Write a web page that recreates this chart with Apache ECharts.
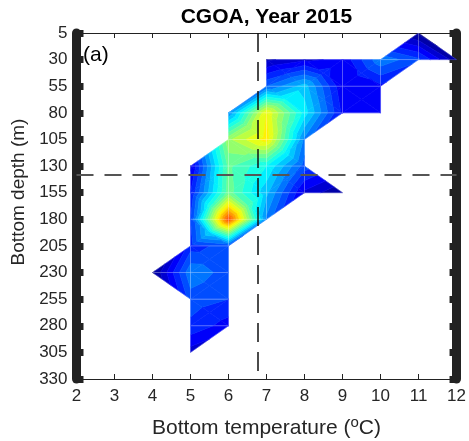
<!DOCTYPE html>
<html>
<head>
<meta charset="utf-8">
<script src="https://cdn.jsdelivr.net/npm/echarts@6/dist/echarts.min.js"></script>
<style>
  html, body { margin: 0; padding: 0; background: #fff; }
  #chart { width: 469px; height: 441px; }
</style>
</head>
<body>
<div id="chart"></div>
<script>
// Grid of the survey: bottom temperature (°C) by bottom depth (m)
const temps = [2, 3, 4, 5, 6, 7, 8, 9, 10, 11, 12];
const depths = [5, 30, 55, 80, 105, 130, 155, 180, 205, 230, 255, 280, 305, 330];
const tempTicks = [2, 3, 4, 5, 6, 7, 8, 9, 10, 11, 12];
const depthTicks = [5, 30, 55, 80, 105, 130, 155, 180, 205, 230, 255, 280, 305, 330];

// Relative density on the grid, one row per depth (null = no hauls)
const _ = null;
const density = [
  [_, _, _, _, _, _, _, _, _, 0.03, _],                  //   5 m
  [_, _, _, _, _, 0.07, 0.11, 0.13, 0.27, 0.21, 0.05],  //  30 m
  [_, _, _, _, _, 0.24, 0.34, 0.125, 0.15, _, _],       //  55 m
  [_, _, _, _, 0.28, 0.64, 0.38, 0.15, 0.14, _, _],     //  80 m
  [_, _, _, _, 0.55, 0.66, 0.27, _, _, _, _],           // 105 m
  [_, _, _, 0.11, 0.49, 0.40, 0.22, _, _, _, _],        // 130 m
  [_, _, _, 0.16, 0.50, 0.33, 0.11, 0.04, _, _, _],     // 155 m
  [_, _, _, 0.20, 0.83, 0.27, _, _, _, _, _],           // 180 m
  [_, _, _, 0.18, 0.22, _, _, _, _, _, _],              // 205 m
  [_, _, 0.03, 0.27, 0.22, _, _, _, _, _, _],           // 230 m
  [_, _, _, 0.22, 0.20, _, _, _, _, _, _],              // 255 m
  [_, _, _, 0.19, 0.14, _, _, _, _, _, _],              // 280 m
  [_, _, _, 0.10, _, _, _, _, _, _, _],                 // 305 m
  [_, _, _, _, _, _, _, _, _, _, _]                     // 330 m
];

// Mean temperature and depth reference lines
const refTemp = 6.77;
const refDepth = 138;

// Filled-contour levels
const levelStep = 0.04;
const levels = [];
for (let k = 0; k * levelStep < 1; k++) levels.push(+(k * levelStep).toFixed(4));

// MATLAB-style jet colour map
function jet(v) {
  const c = t => Math.max(0, Math.min(1, t));
  const r = c(1.5 - Math.abs(4 * v - 3));
  const g = c(1.5 - Math.abs(4 * v - 2));
  const b = c(1.5 - Math.abs(4 * v - 1));
  return 'rgb(' + Math.round(r * 255) + ',' + Math.round(g * 255) + ',' + Math.round(b * 255) + ')';
}

// Split every grid cell into triangles (centre point for full cells);
// also collect the outer cell edges, drawn as faint patch seams
const seams = [];
function cellTriangles() {
  const tris = [];
  for (let j = 0; j < depths.length - 1; j++) {
    for (let i = 0; i < temps.length - 1; i++) {
      const corners = [
        [temps[i], depths[j], density[j][i]],
        [temps[i + 1], depths[j], density[j][i + 1]],
        [temps[i + 1], depths[j + 1], density[j + 1][i + 1]],
        [temps[i], depths[j + 1], density[j + 1][i]]
      ];
      const valid = corners.filter(p => p[2] !== null);
      if (valid.length === 4) {
        const m = [
          (corners[0][0] + corners[2][0]) / 2,
          (corners[0][1] + corners[2][1]) / 2,
          corners.reduce((s, p) => s + p[2], 0) / 4
        ];
        for (let k = 0; k < 4; k++) {
          tris.push([corners[k], corners[(k + 1) % 4], m]);
          seams.push([corners[k], corners[(k + 1) % 4]]);
        }
      } else if (valid.length === 3) {
        tris.push(valid);
        for (let k = 0; k < 3; k++) seams.push([valid[k], valid[(k + 1) % 3]]);
      }
    }
  }
  return tris;
}

// Clip a polygon (vertices carry a value) to v >= bound or v <= bound
function clip(poly, bound, keepAbove) {
  const out = [];
  const inside = p => keepAbove ? p[2] >= bound : p[2] <= bound;
  for (let i = 0; i < poly.length; i++) {
    const a = poly[i], b = poly[(i + 1) % poly.length];
    const ia = inside(a), ib = inside(b);
    if (ia) out.push(a);
    if (ia !== ib) {
      const t = (bound - a[2]) / (b[2] - a[2]);
      out.push([a[0] + t * (b[0] - a[0]), a[1] + t * (b[1] - a[1]), bound]);
    }
  }
  return out;
}

const pieces = [];
cellTriangles().forEach(tri => {
  for (let k = 0; k < levels.length; k++) {
    const lo = levels[k];
    const hi = k + 1 < levels.length ? levels[k + 1] : Infinity;
    let poly = clip(tri, lo, true);
    if (poly.length < 3) continue;
    if (hi !== Infinity) poly = clip(poly, hi, false);
    if (poly.length < 3) continue;
    pieces.push({ pts: poly.map(p => [p[0], p[1]]), color: jet(lo) });
  }
});

const FONT = '"Liberation Sans", Arial, Helvetica, sans-serif';
const INK = '#262626';
const BAR = '#222222';

const chart = echarts.init(document.getElementById('chart'), null, { renderer: 'canvas' });

const xAxisBase = {
  type: 'value', min: 2, max: 12, interval: 1,
  splitLine: { show: false },
  axisLine: { show: true, onZero: false, lineStyle: { color: BAR, width: 1 } },
  axisTick: { show: true, inside: true, length: 5, lineStyle: { color: BAR, width: 1 } }
};
const yAxisBase = {
  type: 'value', min: 5, max: 330, inverse: true,
  splitLine: { show: false },
  axisLine: { show: true, onZero: false, lineStyle: { color: BAR, width: 9 } },
  axisTick: { show: true, inside: true, length: 7, customValues: depthTicks, lineStyle: { color: BAR, width: 7 } }
};

chart.setOption({
  animation: false,
  backgroundColor: '#ffffff',
  grid: { left: 76.5, right: 11, top: 33, bottom: 62 },
  xAxis: [
    Object.assign({}, xAxisBase, {
      position: 'bottom',
      axisLabel: { color: INK, fontSize: 17, fontFamily: FONT, margin: 9,
        customValues: tempTicks, formatter: v => String(v) }
    }),
    Object.assign({}, xAxisBase, { position: 'top', axisLabel: { show: false } })
  ],
  yAxis: [
    Object.assign({}, yAxisBase, {
      position: 'left',
      axisLabel: { color: INK, fontSize: 17, fontFamily: FONT, margin: 9,
        customValues: depthTicks, formatter: v => String(v) }
    }),
    Object.assign({}, yAxisBase, { position: 'right', axisLabel: { show: false } })
  ],
  series: [{
    type: 'custom',
    coordinateSystem: 'cartesian2d',
    xAxisIndex: 0, yAxisIndex: 0,
    silent: true,
    clip: true,
    data: pieces.map((p, i) => [p.pts[0][0], p.pts[0][1], i]),
    encode: { x: 0, y: 1 },
    renderItem: function (params, api) {
      const p = pieces[api.value(2)];
      return {
        type: 'polygon',
        shape: { points: p.pts.map(q => api.coord(q)) },
        style: { fill: p.color, stroke: p.color, lineWidth: 0.6 }
      };
    },
    markLine: {
      silent: true,
      symbol: ['none', 'none'],
      label: { show: false },
      animation: false,
      data: [
        { xAxis: refTemp, lineStyle: { color: '#111', width: 1.5, type: [19, 10] } },
        { yAxis: refDepth, lineStyle: { color: '#555', width: 2, type: [17, 11] } }
      ]
    },
    z: 1
  }, {
    // faint seams along the patch edges
    type: 'custom',
    coordinateSystem: 'cartesian2d',
    xAxisIndex: 0, yAxisIndex: 0,
    silent: true,
    clip: true,
    data: seams.map((s, i) => [s[0][0], s[0][1], i]),
    encode: { x: 0, y: 1 },
    renderItem: function (params, api) {
      const s = seams[api.value(2)];
      const a = api.coord([s[0][0], s[0][1]]), b = api.coord([s[1][0], s[1][1]]);
      return {
        type: 'line',
        shape: { x1: a[0], y1: a[1], x2: b[0], y2: b[1] },
        style: { stroke: 'rgba(255,255,255,0.22)', lineWidth: 0.8 }
      };
    },
    z: 2
  }],
  graphic: [
    { type: 'text', x: 266.5, y: 17, silent: true,
      style: { text: 'CGOA, Year 2015', font: 'bold 21px ' + FONT, fill: '#000',
        align: 'center', verticalAlign: 'middle' } },
    { type: 'text', x: 83, y: 55, silent: true,
      style: { text: '(a)', font: '21px ' + FONT, fill: '#000',
        align: 'left', verticalAlign: 'middle' } },
    { type: 'text', x: 266.5, y: 428, silent: true,
      style: { text: 'Bottom temperature ({sup|o}C)', font: '21px ' + FONT, fill: INK,
        align: 'center', verticalAlign: 'middle',
        rich: { sup: { fontSize: 15, fontFamily: FONT, fill: INK, verticalAlign: 'top', lineHeight: 26 } } } },
    { type: 'text', x: 19, y: 192, rotation: Math.PI / 2, silent: true,
      style: { text: 'Bottom depth (m)', font: '19px ' + FONT, fill: INK,
        align: 'center', verticalAlign: 'middle' } }
  ]
});
</script>
</body>
</html>
